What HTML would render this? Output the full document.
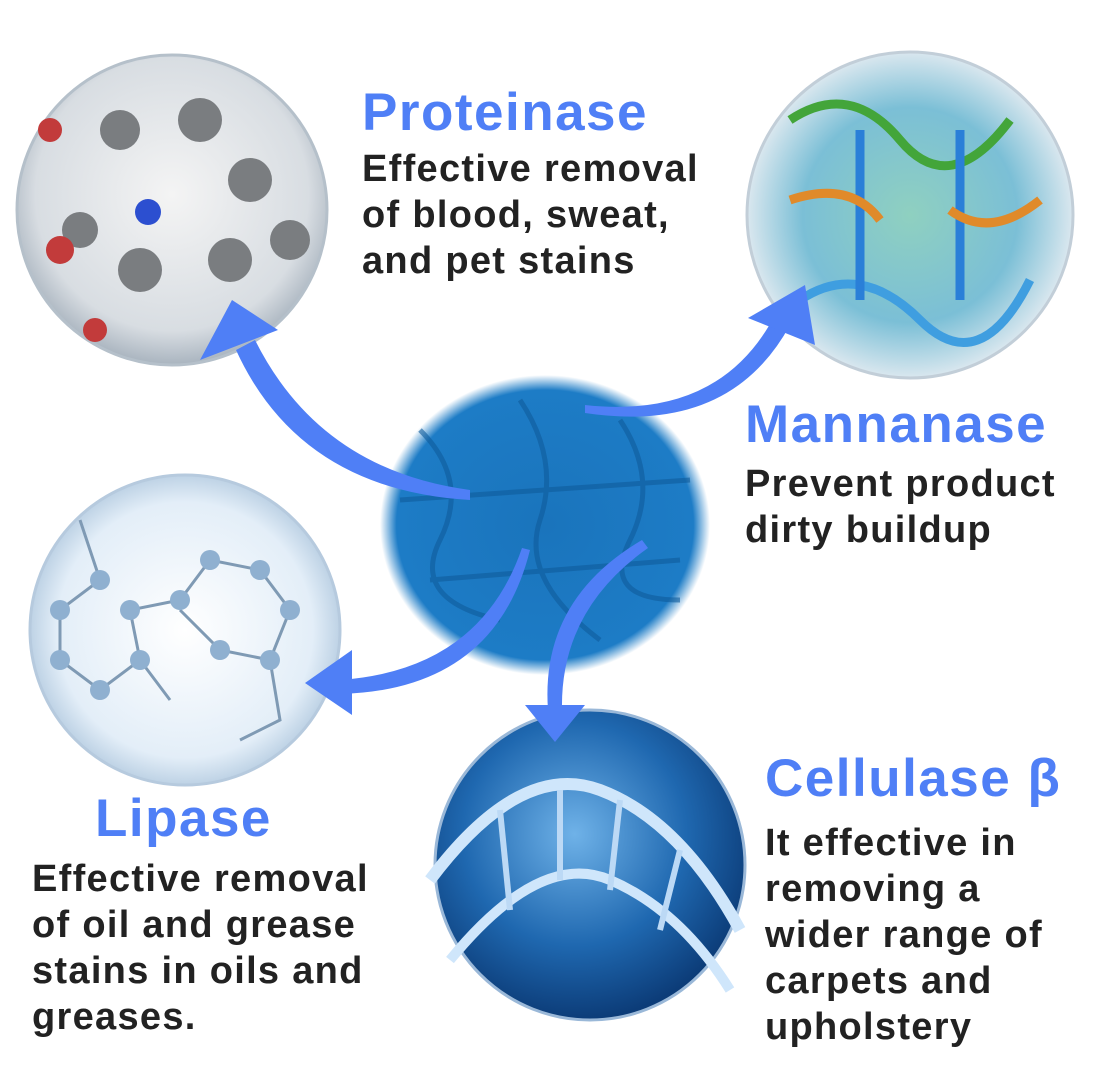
<!DOCTYPE html>
<html><head><meta charset="utf-8"><style>
html,body{margin:0;padding:0;background:#fff;}
#c{position:relative;width:1100px;height:1074px;overflow:hidden;font-family:"Liberation Sans",sans-serif;}
.t{position:absolute;font-weight:bold;color:#4f7ff6;font-size:53px;white-space:nowrap;letter-spacing:1.5px}
.b{position:absolute;font-weight:bold;color:#222;font-size:38px;line-height:46px;white-space:nowrap;letter-spacing:1.3px}
</style></head><body><div id="c">
<svg width="1100" height="1074" style="position:absolute;left:0;top:0">
<defs>
<radialGradient id="g1" cx="50%" cy="45%" r="55%"><stop offset="0" stop-color="#f4f4f4"/><stop offset="0.8" stop-color="#d8dde2"/><stop offset="1" stop-color="#a9b4bf"/></radialGradient>
<radialGradient id="g2" cx="50%" cy="50%" r="55%"><stop offset="0" stop-color="#8fd0c0"/><stop offset="0.6" stop-color="#7bbfd6"/><stop offset="0.9" stop-color="#d7e6ee"/><stop offset="1" stop-color="#b8c8d4"/></radialGradient>
<radialGradient id="g3" cx="50%" cy="50%" r="55%"><stop offset="0" stop-color="#ffffff"/><stop offset="0.75" stop-color="#e3eef8"/><stop offset="1" stop-color="#a8c2da"/></radialGradient>
<radialGradient id="g4" cx="45%" cy="40%" r="60%"><stop offset="0" stop-color="#6fb2e8"/><stop offset="0.6" stop-color="#1f68b0"/><stop offset="1" stop-color="#0c3c78"/></radialGradient>
<radialGradient id="gb" cx="50%" cy="50%" r="50%"><stop offset="0" stop-color="#1a74bc"/><stop offset="0.9" stop-color="#1d7cc6"/><stop offset="1" stop-color="#1d7cc6" stop-opacity="0"/></radialGradient>
</defs>
<circle cx="172" cy="210" r="155" fill="url(#g1)" stroke="#b5c0ca" stroke-width="3"/>
<g fill="#7a7d80"><circle cx="120" cy="130" r="20"/><circle cx="200" cy="120" r="22"/><circle cx="250" cy="180" r="22"/><circle cx="230" cy="260" r="22"/><circle cx="140" cy="270" r="22"/><circle cx="80" cy="230" r="18"/><circle cx="290" cy="240" r="20"/></g>
<circle cx="148" cy="212" r="13" fill="#2c4fd0"/><circle cx="60" cy="250" r="14" fill="#c23b3b"/><circle cx="50" cy="130" r="12" fill="#c23b3b"/><circle cx="95" cy="330" r="12" fill="#c23b3b"/>
<circle cx="910" cy="215" r="163" fill="url(#g2)" stroke="#c2ced8" stroke-width="3"/>
<g fill="none" stroke-width="9"><path d="M790 120 Q850 80 900 140 T1010 120" stroke="#43a53a"/><path d="M800 300 Q860 260 920 320 T1030 280" stroke="#3f9ee0"/><path d="M860 130 L860 300" stroke="#2a7fd8"/><path d="M960 130 L960 300" stroke="#2a7fd8"/><path d="M790 200 Q850 180 880 220" stroke="#e08a2a"/><path d="M1040 200 Q990 240 950 210" stroke="#e08a2a"/></g>
<circle cx="185" cy="630" r="155" fill="url(#g3)" stroke="#b6cade" stroke-width="3"/>
<g stroke="#7f9ab4" stroke-width="3" fill="none"><path d="M80 520 L100 580 L60 610 L60 660 L100 690 L140 660 L130 610 L180 600 L210 560 L260 570 L290 610 L270 660 L220 650 L180 610"/><path d="M140 660 L170 700 M270 660 L280 720 L240 740"/></g>
<g fill="#8fb0d0"><circle cx="100" cy="580" r="10"/><circle cx="60" cy="610" r="10"/><circle cx="60" cy="660" r="10"/><circle cx="100" cy="690" r="10"/><circle cx="140" cy="660" r="10"/><circle cx="130" cy="610" r="10"/><circle cx="180" cy="600" r="10"/><circle cx="210" cy="560" r="10"/><circle cx="260" cy="570" r="10"/><circle cx="290" cy="610" r="10"/><circle cx="270" cy="660" r="10"/><circle cx="220" cy="650" r="10"/></g>
<circle cx="590" cy="865" r="155" fill="url(#g4)" stroke="#9ab8d8" stroke-width="3"/>
<path d="M430 880 Q520 760 600 790 T740 930" fill="none" stroke="#cfe6fb" stroke-width="12"/>
<path d="M450 960 Q540 850 610 880 T730 990" fill="none" stroke="#cfe6fb" stroke-width="10"/>
<g stroke="#bcd9f5" stroke-width="6"><line x1="500" y1="810" x2="510" y2="910"/><line x1="560" y1="790" x2="560" y2="880"/><line x1="620" y1="800" x2="610" y2="890"/><line x1="680" y1="850" x2="660" y2="930"/></g>
<ellipse cx="545" cy="525" rx="165" ry="150" fill="url(#gb)"/>
<g fill="none" stroke="#0f5c9c" stroke-width="5" opacity="0.6"><path d="M420 430 Q470 480 440 540 T500 620"/><path d="M520 400 Q560 460 540 520 T600 640"/><path d="M620 420 Q660 480 630 540 T680 600"/><path d="M400 500 L690 480"/><path d="M430 580 L680 560"/></g>
<g fill="#4f7ff6">
<path d="M470 490 Q320 470 255 340 L236 350 Q300 490 470 500 Z"/><polygon points="200,360 278,330 232,300"/>
<path d="M585 405 Q720 420 775 315 L790 325 Q730 435 585 413 Z"/><polygon points="748,318 815,345 805,285"/>
<path d="M522 548 Q480 670 340 680 L340 694 Q495 690 530 550 Z"/><polygon points="352,650 352,715 305,683"/>
<path d="M642 540 Q540 600 548 710 L562 710 Q560 610 648 548 Z"/><polygon points="525,705 585,705 555,742"/>
</g>
</svg>
<div class="t" style="left:362px;top:82px">Proteinase</div>
<div class="b" style="left:362px;top:146px">Effective removal<br>of blood, sweat,<br>and pet stains</div>
<div class="t" style="left:745px;top:394px">Mannanase</div>
<div class="b" style="left:745px;top:461px">Prevent product<br>dirty buildup</div>
<div class="t" style="left:95px;top:788px">Lipase</div>
<div class="b" style="left:32px;top:856px">Effective removal<br>of oil and grease<br>stains in oils and<br>greases.</div>
<div class="t" style="left:765px;top:748px">Cellulase β</div>
<div class="b" style="left:765px;top:820px">It effective in<br>removing a<br>wider range of<br>carpets and<br>upholstery</div>
</div></body></html>
